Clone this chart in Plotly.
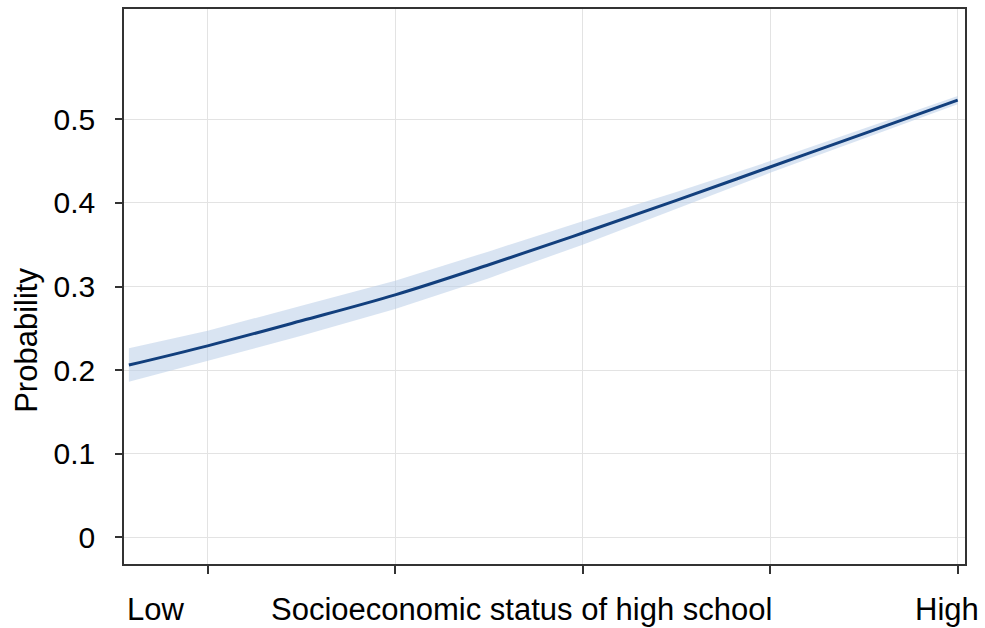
import plotly.graph_objects as go

# Data (x in tick units: Low ... High)
ses_x = [-0.42, 0.0, 0.5, 1.0, 1.5, 2.0, 2.5, 3.0, 3.5, 4.0]
prob = [0.206, 0.229, 0.259, 0.290, 0.326, 0.364, 0.403, 0.443, 0.483, 0.523]
half_ci = [0.020, 0.018, 0.018, 0.017, 0.016, 0.014, 0.010, 0.007, 0.006, 0.005]

y_ticks = [0, 0.1, 0.2, 0.3, 0.4, 0.5]
y_tick_text = ["0", "0.1", "0.2", "0.3", "0.4", "0.5"]
x_ticks = [0, 1, 2, 3, 4]

lower = [p - h for p, h in zip(prob, half_ci)]
upper = [p + h for p, h in zip(prob, half_ci)]

FONT = "Liberation Sans, Arial, sans-serif"
FS = 30
FS_X = 31

fig = go.Figure()
fig.add_trace(go.Scatter(x=ses_x, y=lower, mode="lines", line=dict(width=0),
                         showlegend=False, hoverinfo="skip"))
fig.add_trace(go.Scatter(x=ses_x, y=upper, mode="lines", line=dict(width=0),
                         fill="tonexty", fillcolor="rgba(185,205,232,0.55)",
                         showlegend=False, hoverinfo="skip"))
fig.add_trace(go.Scatter(x=ses_x, y=prob, mode="lines",
                         line=dict(color="#123f7d", width=3, shape="spline"),
                         showlegend=False))

fig.update_layout(
    width=985, height=628,
    margin=dict(l=124, r=20, t=7, b=64),
    paper_bgcolor="white", plot_bgcolor="white",
    font=dict(family=FONT, size=FS, color="black"),
    xaxis=dict(range=[-0.446, 4.039], tickvals=x_ticks, showticklabels=False,
               ticks="outside", ticklen=8, tickwidth=1.5, tickcolor="#333",
               showgrid=True, gridcolor="#e3e3e3", gridwidth=1.2,
               showline=True, linecolor="#333", linewidth=1.6, mirror=True,
               zeroline=False),
    yaxis=dict(range=[-0.032, 0.632], tickvals=y_ticks, ticktext=y_tick_text,
               ticks="outside", ticklen=7, tickwidth=1.5, tickcolor="#333",
               ticklabelstandoff=14,
               showgrid=True, gridcolor="#e3e3e3", gridwidth=1.2,
               showline=True, linecolor="#333", linewidth=1.6, mirror=True,
               zeroline=False,
               tickfont=dict(family=FONT, size=FS, color="black")),
)

fig.add_annotation(text="Probability", xref="paper", yref="paper",
                   x=(27 - 124) / 841, y=(564 - 340) / 557, textangle=-90,
                   showarrow=False, xanchor="center", yanchor="middle",
                   font=dict(family=FONT, size=31, color="black"))
label_y = (564 - 610) / 557
fig.add_annotation(text="Low", xref="paper", yref="paper", x=(155 - 124) / 841,
                   y=label_y, showarrow=False, xanchor="center", yanchor="middle",
                   font=dict(family=FONT, size=FS_X, color="black"))
fig.add_annotation(text="Socioeconomic status of high school", xref="paper", yref="paper",
                   x=(521 - 124) / 841, y=label_y, showarrow=False,
                   xanchor="center", yanchor="middle",
                   font=dict(family=FONT, size=FS_X, color="black"))
fig.add_annotation(text="High", xref="paper", yref="paper", x=(947 - 124) / 841,
                   y=label_y, showarrow=False, xanchor="center", yanchor="middle",
                   font=dict(family=FONT, size=FS_X, color="black"))

fig.write_html("out.html", config={"displayModeBar": False},
               post_script="document.body.style.margin='0';document.body.style.overflow='hidden';")
